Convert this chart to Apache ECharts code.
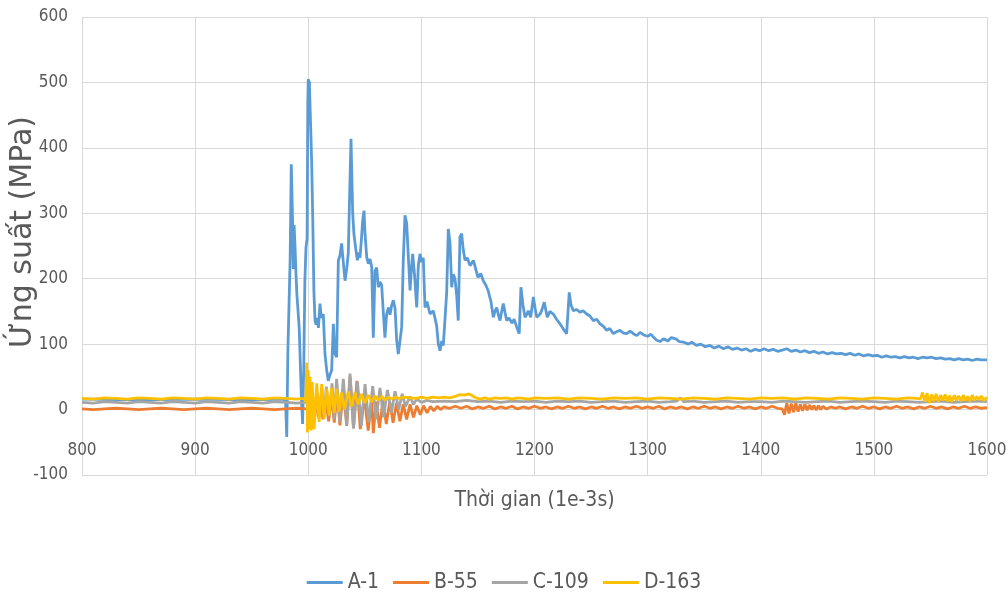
<!DOCTYPE html>
<html>
<head>
<meta charset="utf-8">
<script src="https://cdn.jsdelivr.net/npm/echarts@6/dist/echarts.min.js"></script>
<style>
  html, body { margin: 0; padding: 0; background: #ffffff; }
  #chart { width: 1008px; height: 596px; }
</style>
</head>
<body>
<div id="chart"></div>
<script>
// Axis ticks
const xTicks = { min: 800, max: 1600, step: 100 };
const yTicks = { min: -100, max: 600, step: 100 };

// Series names and colours
const seriesNames = ['A-1', 'B-55', 'C-109', 'D-163'];
const seriesColors = ['#5B9BD5', '#ED7D31', '#A5A5A5', '#FFC000'];

// Stress (MPa) against time (1e-3 s), as [time, stress]
const seriesA1 = [
  [800,16],[850,15],[900,16],[950,15],[978,16],[980,12],[981,-42],[982,90],[983,160],[984,230],
  [985,375],[986,300],[986.8,215],[987.5,282],[988.3,250],[989.2,205],[990,175],[991,150],[992,125],[993,70],
  [994,15],[995,-22],[996,60],[997,195],[998,248],[999,262],[999.6,470],[1000,505],[1001,500],[1002,440],
  [1003,380],[1004,290],[1005,180],[1006,136],[1007,130],[1008,140],[1009,125],[1010.4,162],[1011.5,140],[1013.3,146],
  [1014.8,85],[1016.3,60],[1017.7,44],[1019,52],[1020.7,60],[1022.2,131],[1023.6,85],[1025.1,80],[1026.6,228],[1028,235],
  [1029.5,254],[1031,225],[1032.5,197],[1034,215],[1035.4,239],[1036.6,330],[1037.8,414],[1039.3,300],[1040.4,268],[1042.2,243],
  [1043.4,228],[1044.5,240],[1045.7,232],[1047,260],[1048.1,289],[1049.3,304],[1050.2,268],[1051.7,233],[1053.1,223],[1054.6,230],
  [1056.1,218],[1057.5,110],[1059,212],[1060.5,217],[1061.9,187],[1063.4,195],[1064.9,190],[1066.3,150],[1067.8,110],[1069.3,146],
  [1070.8,156],[1072.3,145],[1073.8,160],[1075.2,167],[1076.7,155],[1078.2,105],[1079.6,85],[1081.1,105],[1082.6,126],[1084,228],
  [1085.5,297],[1087,285],[1088.5,233],[1090,182],[1091.2,215],[1092.3,238],[1094,205],[1095.9,156],[1097.3,220],[1098.8,238],
  [1100.2,225],[1101.7,232],[1103.2,156],[1105,165],[1107.6,146],[1110.5,151],[1112,140],[1113.5,128],[1115,100],[1116.5,90],
  [1118,105],[1119.4,98],[1121,100],[1122.4,180],[1123.8,276],[1125.3,255],[1126.8,187],[1128.2,207],[1129.7,200],[1131.2,175],
  [1132.6,136],[1134.1,264],[1135.6,269],[1137,245],[1138.6,228],[1140.5,232],[1143,220],[1146,228],[1148,215],[1150,202],
  [1152.5,208],[1154.7,197],[1157,190],[1159,182],[1161.5,165],[1163.6,141],[1165,150],[1166.6,156],[1168,145],[1169.5,136],
  [1171,150],[1172.4,162],[1174,148],[1175.4,136],[1177.5,140],[1180,132],[1182,138],[1184.3,126],[1186.5,116],[1188,187],
  [1189.8,160],[1191.6,141],[1193,145],[1194.5,151],[1196.6,141],[1199,172],[1200.5,155],[1202,141],[1204.9,146],[1206.5,152],
  [1208.6,164],[1211.3,141],[1213.5,150],[1216.6,146],[1219.5,138],[1222.5,131],[1225.5,123],[1228.4,116],[1230.7,179],[1232.3,160],
  [1234.3,151],[1237,153],[1240.2,149],[1243,151],[1246.1,146],[1249,143],[1252,136],[1255,138],[1257.9,131],[1261,127],
  [1263.8,121],[1266.5,124],[1269.7,116],[1272.5,119],[1275.6,121],[1278.5,117],[1281.5,116],[1284.5,120],[1287.4,116],[1290.5,113],
  [1293.3,118],[1296.5,114],[1300,112],[1303,115],[1305,111],[1308,106],[1311,104],[1314,108],[1318,105],[1321,110],
  [1325,108],[1328,104],[1332,103],[1336,100],[1339,103],[1343,98],[1347,100],[1351,96],[1355,98],[1359,94],
  [1363,97],[1367,93],[1371,96],[1375,92],[1379,94],[1383,91],[1387,93],[1391,89],[1395,92],[1399,90],
  [1403,93],[1407,90],[1411,92],[1415,89],[1419,91],[1423,93],[1427,89],[1431,91],[1435,88],[1439,90],
  [1443,87],[1447,89],[1451,86],[1455,88],[1459,85],[1463,87],[1467,85],[1471,86],[1475,84],[1479,86],
  [1483,83],[1487,85],[1491,82],[1495,84],[1499,82],[1503,83],[1507,80],[1511,82],[1515,80],[1519,81],
  [1523,79],[1527,81],[1531,79],[1535,80],[1539,78],[1543,80],[1547,79],[1551,80],[1555,78],[1559,79],
  [1563,77],[1567,78],[1571,76],[1575,78],[1579,76],[1583,77],[1587,75],[1591,77],[1595,76],[1600,76]
];

const seriesB55 = [
  [800,1],[810,0],[820,1],[830,2],[840,1],[850,0],[860,1],[870,2],[880,1],[890,0],
  [900,1],[910,2],[920,1],[930,0],[940,1],[950,2],[960,1],[970,0],[980,1],[990,2],
  [998,1],[1001,-3],[1003,8],[1005,-8],[1007,10],[1009,-12],[1011,12],[1013,-15],[1015.5,15],[1018,-18],
  [1020.5,20],[1023,-20],[1025.5,25],[1028,-24],[1031,30],[1034,-25],[1037,50],[1040,-28],[1043,44],[1046,-30],
  [1049.5,20],[1053,-32],[1056,15],[1057.5,-36],[1060,12],[1063,-28],[1066,14],[1069,-22],[1072,12],[1075,-20],
  [1078,10],[1081,-18],[1084,8],[1087,-15],[1090,8],[1093,-12],[1096,6],[1099,-8],[1102,6],[1105,-5],
  [1108,5],[1111,-2],[1114,5],[1117,0],[1120,4],[1125,2],[1130,5],[1135,2],[1140,5],[1145,1],
  [1150,4],[1155,2],[1160,5],[1165,1],[1170,4],[1175,2],[1180,5],[1185,1],[1190,4],[1195,2],
  [1200,5],[1205,2],[1210,4],[1215,1],[1220,4],[1225,2],[1230,5],[1235,2],[1240,4],[1245,1],
  [1250,4],[1255,2],[1260,5],[1265,2],[1270,4],[1275,1],[1280,4],[1285,2],[1290,5],[1295,2],
  [1300,4],[1305,2],[1310,5],[1315,1],[1320,4],[1325,2],[1330,4],[1335,1],[1340,4],[1345,2],
  [1350,5],[1355,2],[1360,4],[1365,1],[1370,4],[1375,2],[1380,5],[1385,2],[1390,4],[1395,1],
  [1400,4],[1405,2],[1410,5],[1415,2],[1419,1],[1421,-8],[1423,10],[1425,-6],[1427,9],[1429,-4],
  [1431,10],[1433,-3],[1435,8],[1437,-2],[1439,8],[1441,-1],[1443,7],[1445,0],[1447,6],[1449,-1],
  [1451,6],[1453,0],[1455,5],[1458,1],[1462,4],[1466,2],[1470,4],[1475,1],[1480,4],[1485,2],
  [1490,5],[1495,2],[1500,4],[1505,1],[1510,4],[1515,2],[1520,5],[1525,2],[1530,4],[1535,1],
  [1540,4],[1545,2],[1550,5],[1555,2],[1560,4],[1565,1],[1570,4],[1575,2],[1580,5],[1585,2],
  [1590,4],[1595,2],[1600,3]
];

const seriesC109 = [
  [800,11],[810,10],[820,12],[830,11],[840,10],[850,12],[860,11],[870,10],[880,12],[890,11],
  [900,10],[910,12],[920,11],[930,10],[940,12],[950,11],[960,10],[970,12],[980,11],[990,10],
  [998,11],[1000,14],[1002,5],[1004,20],[1006,0],[1008,25],[1010,-5],[1012,30],[1014,-8],[1016,35],
  [1018.5,-10],[1021,40],[1023,-15],[1025.1,47],[1028,-19],[1031,47],[1034,-24],[1036.9,55],[1040,-29],[1043.5,42],
  [1047,-25],[1050.2,39],[1053.5,-20],[1057,36],[1060,-15],[1063.4,33],[1066.5,-12],[1070,30],[1073.5,-5],[1076.7,28],
  [1080,0],[1083,24],[1086,5],[1090,20],[1093,8],[1096,16],[1100,11],[1105,14],[1110,12],[1120,13],
  [1130,12],[1140,14],[1150,12],[1160,13],[1170,11],[1180,13],[1190,12],[1200,13],[1210,11],[1220,13],
  [1230,12],[1240,13],[1250,11],[1260,12],[1270,13],[1280,11],[1290,12],[1300,13],[1310,11],[1320,12],
  [1326,13],[1329,18],[1332,12],[1340,13],[1350,11],[1360,12],[1370,13],[1380,11],[1390,12],[1400,12],
  [1410,11],[1420,13],[1430,12],[1440,11],[1450,12],[1460,13],[1470,11],[1480,12],[1490,13],[1500,12],
  [1510,11],[1520,13],[1530,12],[1540,11],[1550,12],[1560,13],[1570,11],[1580,12],[1590,13],[1600,12]
];

const seriesD163 = [
  [800,17],[810,16],[820,18],[830,17],[840,16],[850,18],[860,17],[870,16],[880,18],[890,17],
  [900,16],[910,18],[920,17],[930,16],[940,18],[950,17],[960,16],[970,18],[980,17],[990,16],
  [996,17],[997.8,12],[998.6,72],[999.3,-35],[1000,60],[1000.8,-30],[1001.6,50],[1002.6,-32],[1003.5,42],[1005.2,-30],
  [1007.5,40],[1009.6,-19],[1011.9,39],[1014,-14],[1016.3,32],[1018.5,-9],[1020.7,33],[1023,-5],[1025.1,32],[1027.3,-3],
  [1029.5,26],[1032,0],[1035.4,28],[1038,5],[1041.3,26],[1044,8],[1047,24],[1050,10],[1053,22],[1056,12],
  [1059,21],[1062,14],[1065,20],[1068,15],[1071,19],[1074,16],[1077,19],[1080,17],[1085,19],[1090,18],
  [1095,17],[1100,19],[1105,17],[1110,19],[1115,18],[1120,19],[1125,18],[1130,20],[1134,23],[1138,22],
  [1142,24],[1145,21],[1148,18],[1152,16],[1156,18],[1160,16],[1165,18],[1170,17],[1175,18],[1180,16],
  [1185,18],[1190,17],[1195,16],[1200,18],[1210,17],[1220,18],[1230,16],[1240,18],[1250,17],[1260,16],
  [1270,18],[1280,17],[1290,18],[1300,16],[1310,18],[1320,17],[1330,16],[1340,18],[1350,17],[1360,16],
  [1370,18],[1380,17],[1390,16],[1400,18],[1410,17],[1420,18],[1430,16],[1440,18],[1450,17],[1460,16],
  [1470,18],[1480,17],[1490,16],[1500,18],[1510,17],[1520,16],[1530,18],[1538,17],[1541,16],[1543,26],
  [1545,12],[1547,25],[1549,10],[1551,23],[1553,13],[1555,24],[1557,12],[1559,22],[1561,14],[1563,23],
  [1565,13],[1567,21],[1569,12],[1571,22],[1573,14],[1575,21],[1577,13],[1579,22],[1581,14],[1583,20],
  [1585,13],[1587,22],[1589,14],[1591,20],[1593,15],[1595,21],[1597,14],[1600,19]
];

const seriesData = [seriesA1, seriesB55, seriesC109, seriesD163];

const narrowFont = "'Liberation Sans Narrow', 'DejaVu Sans Condensed', 'Noto Sans Condensed', 'Noto Sans SemiCondensed', 'Liberation Sans', sans-serif";
const textColor = '#595959';
const gridColor = '#D9D9D9';

const chart = echarts.init(document.getElementById('chart'), null, { renderer: 'canvas' });

chart.setOption({
  animation: false,
  backgroundColor: '#ffffff',
  grid: { left: 82, right: 21, top: 17, bottom: 121, containLabel: false, outerBoundsMode: 'none' },
  legend: {
    data: seriesNames,
    left: 'center',
    top: 567,
    icon: 'rect',
    itemWidth: 36,
    itemHeight: 3,
    itemGap: 14,
    textStyle: { fontFamily: narrowFont, fontSize: 21, color: textColor }
  },
  xAxis: {
    type: 'value',
    min: xTicks.min,
    max: xTicks.max,
    interval: xTicks.step,
    // the axis (and its labels) sits on the zero line of the stress axis
    offset: -66,
    name: 'Thời gian (1e-3s)',
    nameLocation: 'middle',
    nameGap: 81,
    nameMoveOverlap: false,
    nameTextStyle: { fontFamily: narrowFont, fontSize: 21, color: textColor },
    axisLine: { show: true, onZero: false, lineStyle: { color: gridColor, width: 1 } },
    axisTick: { show: false },
    axisLabel: {
      margin: 33,
      fontFamily: narrowFont,
      fontSize: 17,
      color: textColor,
      formatter: (v) => String(v)
    },
    splitLine: { show: true, lineStyle: { color: gridColor, width: 1 } }
  },
  yAxis: {
    type: 'value',
    min: yTicks.min,
    max: yTicks.max,
    interval: yTicks.step,
    name: 'Ứng suất (MPa)',
    nameLocation: 'middle',
    nameGap: 44,
    nameMoveOverlap: false,
    nameRotate: 90,
    nameTextStyle: { fontFamily: "'DejaVu Sans', sans-serif", fontSize: 30, color: textColor, padding: [0, 0, 0, 28] },
    axisLine: { show: false },
    axisTick: { show: false },
    axisLabel: { margin: 14, fontFamily: narrowFont, fontSize: 17, color: textColor },
    splitLine: { show: true, lineStyle: { color: gridColor, width: 1 } }
  },
  series: seriesNames.map((name, i) => ({
    name: name,
    type: 'line',
    data: seriesData[i],
    symbol: 'none',
    showSymbol: false,
    color: seriesColors[i],
    lineStyle: { color: seriesColors[i], width: 2.8 },
    z: 2 + i
  }))
});
</script>
</body>
</html>
